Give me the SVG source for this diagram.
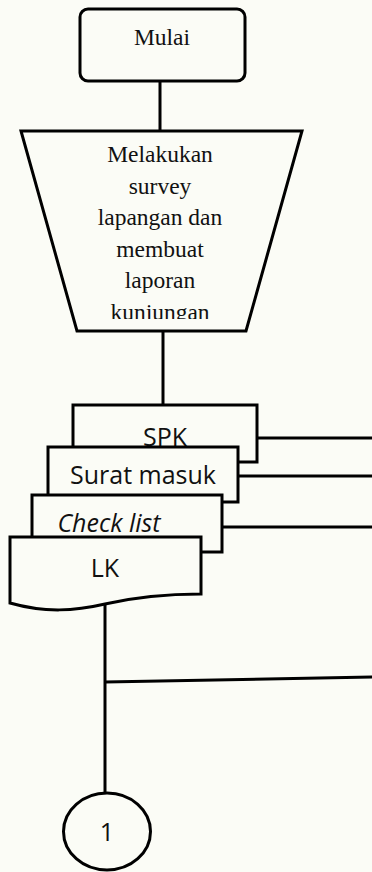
<svg xmlns="http://www.w3.org/2000/svg" width="372" height="872" viewBox="0 0 372 872">
  <style>
    .shape { fill: #fbfcf6; stroke: #000; stroke-width: 3; stroke-linejoin: miter; }
    .wire { fill: none; stroke: #000; stroke-width: 3; }
    .serif { font-family: "Liberation Serif", "Times New Roman", serif; font-size: 23.5px; fill: #111; text-anchor: middle; }
    .sans { font-family: "Open Sans", "Noto Sans", sans-serif; font-size: 25px; fill: #111; text-anchor: middle; }
  </style>
  <defs>
    <clipPath id="trapClip">
      <rect x="0" y="131" width="372" height="188"/>
    </clipPath>
  </defs>
  <rect x="0" y="0" width="372" height="872" fill="#fbfcf6"/>

  <!-- connectors -->
  <g id="connectors">
    <line class="wire" x1="160" y1="81" x2="160" y2="131"/>
    <line class="wire" x1="163" y1="331" x2="163" y2="406"/>
    <line class="wire" x1="257" y1="438" x2="372" y2="438"/>
    <line class="wire" x1="238" y1="476" x2="372" y2="476"/>
    <line class="wire" x1="222" y1="527" x2="372" y2="527"/>
    <line class="wire" x1="105" y1="604" x2="105" y2="793"/>
    <line class="wire" x1="105" y1="682" x2="372" y2="677"/>
  </g>

  <!-- start terminator -->
  <g id="mulai">
    <rect class="shape" x="80" y="9" width="165" height="72" rx="8"/>
    <text class="serif" x="162" y="45" font-size="24">Mulai</text>
  </g>

  <!-- manual operation -->
  <g id="survey">
    <polygon class="shape" points="21,131 302,131 246,331 77,331"/>
    <g clip-path="url(#trapClip)">
      <text class="serif" x="160" y="162">Melakukan</text>
      <text class="serif" x="160" y="193.5">survey</text>
      <text class="serif" x="160" y="225">lapangan dan</text>
      <text class="serif" x="160" y="257">membuat</text>
      <text class="serif" x="160" y="288">laporan</text>
      <text class="serif" x="160" y="320">kunjungan</text>
    </g>
  </g>

  <!-- document stack -->
  <g id="spk">
    <rect class="shape" x="73" y="405" width="184" height="57"/>
    <text class="sans" x="165" y="446">SPK</text>
  </g>
  <g id="surat-masuk">
    <rect class="shape" x="48" y="447" width="190" height="55"/>
    <text class="sans" x="143" y="484">Surat masuk</text>
  </g>
  <g id="check-list">
    <rect class="shape" x="32" y="495" width="190" height="57"/>
    <text class="sans" x="109" y="532" font-style="italic">Check list</text>
  </g>
  <g id="lk">
    <path class="shape" d="M10,537 H201 V594 C170,594 140,596 105,604 C75,611 45,613 10,603 Z"/>
    <text class="sans" x="105" y="577">LK</text>
  </g>

  <!-- off-page connector -->
  <g id="conn-1">
    <ellipse class="shape" cx="107" cy="831.5" rx="43.5" ry="38.5"/>
    <text class="sans" x="107" y="841">1</text>
  </g>
</svg>
